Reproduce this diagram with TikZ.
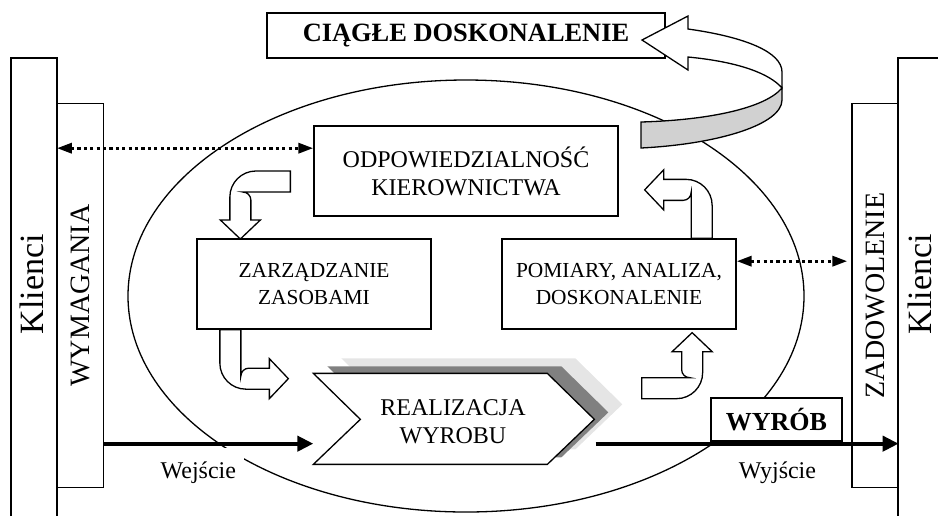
\documentclass[tikz,border=0pt]{standalone}
\usepackage{fontspec}
\setmainfont{Liberation Serif}
\usepackage{graphicx}
\usetikzlibrary{arrows.meta,calc}

\newcommand{\drawbent}[4]{% Parameters: tail, rotation, run, rise
  \begin{scope}[shift={#1},rotate=#2]
    \draw[bent] (0,10.5) -- ({#3-15.5},10.5) .. controls ({#3-1.2},10.5) and ({#3+10.5},-1.2) .. ({#3+10.5},-15.5)
      -- ({#3+10.5},-#4) -- ({#3+20},-#4) -- (#3,{-#4-19}) -- ({#3-20},-#4) -- ({#3-10.5},-#4)
      -- ({#3-10.5},-18.5) .. controls ({#3-10.5},-14.1) and ({#3-6.9},-10.5) .. ({#3-2.5},-10.5) -- (0,-10.5) -- cycle;
  \end{scope}
}
\newcommand{\drawchevron}[3]{% Parameters: x offset, y offset, style
  \path[#3] ($(realizacja.north west)+(#1,#2)$) -- ++(234,0) -- ++(47,46) -- ++(-47,45)
    -- ++(-234,0) -- ++(47,-45) -- cycle;
}

\begin{document}
\begin{tikzpicture}[x=0.5pt, y=-0.5pt, line width=0.65pt,
    panel/.style={draw, fill=white, align=center, inner sep=0pt},
    side/.style={panel, minimum width=23pt, minimum height=192pt, font=\fontsize{14}{17}\selectfont},
    task/.style={panel, minimum width=117pt, minimum height=45pt, font=\fontsize{10.7}{13.5}\selectfont},
    head/.style={panel, font=\fontsize{13.2}{16}\selectfont\bfseries},
    client/.style={rotate=90, font=\fontsize{17}{20}\selectfont},
    tag/.style={below=1pt, fill=white, inner xsep=4pt, inner ysep=7pt, font=\fontsize{12}{14}\selectfont},
    flowline/.style={line width=2pt, -{Triangle[length=8pt,width=7.5pt]}},
    dotlink/.style={line width=1.6pt, dash pattern=on 1.6pt off 1.6pt,
      {Triangle[length=7.5pt,width=5pt]}-{Triangle[length=7.5pt,width=5pt]}},
    bent/.style={draw, fill=white}]
  \useasboundingbox (0,0) rectangle (938,516);

  % organisation
  \draw (466,296) ellipse [x radius=338, y radius=216];

  % customers on both sides
  \draw (11,516) |- (57,58) -- (57,516);
  \draw (938,58) -| (898,516);
  \node[client] (klienci1) at (32,284) {Klienci};
  \node[client] (klienci2) at (920,284) {Klienci};
  \node[side] (wymagania) at (80.5,295.5) {\rotatebox{90}{WYMAGANIA}};
  \node[side] (zadowolenie) at (875,295.5) {\rotatebox{90}{ZADOWOLENIE}};

  % processes
  \node[head, minimum width=199pt, minimum height=22.5pt] (ciagle) at (466,35.5) {CIĄGŁE DOSKONALENIE};
  \node[panel, minimum width=152pt, minimum height=45pt, font=\fontsize{12}{14}\selectfont] (odp) at (466,171)
    {ODPOWIEDZIALNOŚĆ\\KIEROWNICTWA};
  \node[task] (zasoby) at (314,284) {ZARZĄDZANIE\\ZASOBAMI};
  \node[task] (pomiary) at (619,284) {POMIARY, ANALIZA,\\DOSKONALENIE};

  % improvement ribbon
  \draw[fill=white] (642,40) -- (688,16) -- (688,29) .. controls (745,37) and (782,52) .. (782,72)
    -- (782,88) .. controls (770,74) and (740,62) .. (688,57) -- (688,70) -- cycle;
  \draw[fill=black!18] (782,88) .. controls (765,108) and (710,120) .. (641,122) -- (641,148)
    .. controls (720,144) and (782,124) .. (782,100) -- cycle;

  % product realisation
  \node[minimum width=140.5pt, minimum height=45.5pt, inner sep=0pt] (realizacja) at (454.5,419.5) {};
  \drawchevron{28}{-15}{fill=gray!20}
  \drawchevron{14}{-7}{fill=gray}
  \drawchevron{0}{0}{draw, fill=white}
  \node[align=center, font=\fontsize{12}{14}\selectfont] (realizacjatxt) at (453,422) {REALIZACJA\\WYROBU};

  % loop inside
  \drawbent{($(odp.west)+(-23,10.5)$)}{180}{50}{38.5}
  \drawbent{($(zasoby.south west)+(34,0)$)}{270}{49}{39}
  \drawbent{($(pomiary.south east)+(-95,58.5)$)}{0}{50.5}{36.5}
  \drawbent{($(pomiary.north east)+(-35,0)$)}{90}{48.5}{38}

  \node[head, minimum width=65.5pt, minimum height=21.5pt, font=\fontsize{13}{16}\selectfont\bfseries] (wyrob)
    at (776.5,419.5) {WYRÓB};

  % input and output
  \coordinate (inlevel) at ($(realizacja.south west)+(0,-22)$);
  \draw[flowline] (inlevel -| wymagania.east) -- node[tag, pos=.45] (wejscie) {Wejście} (inlevel);
  \draw[flowline] (realizacja.east |- inlevel) -- node[tag, pos=.6] (wyjscie) {Wyjście} (zadowolenie.east |- inlevel);

  % links with customers
  \coordinate (reqlevel) at ($(odp.north west)!.25!(odp.south west)$);
  \draw[dotlink] (reqlevel -| wymagania.west) -- (reqlevel);
  \coordinate (satlevel) at ($(pomiary.north east)!.25!(pomiary.south east)$);
  \draw[dotlink, shorten >=2pt] (satlevel) -- (satlevel -| zadowolenie.west);
\end{tikzpicture}
\end{document}
